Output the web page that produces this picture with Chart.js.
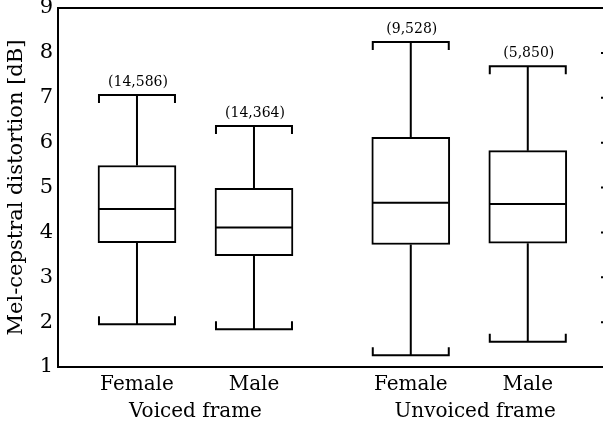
<!DOCTYPE html>
<html><head><meta charset="utf-8">
<script src="https://cdn.jsdelivr.net/npm/chart.js@4/dist/chart.umd.min.js"></script>
<style>html,body{margin:0;padding:0;overflow:hidden;background:#fff}#wrap{width:608px;height:427px;position:relative}</style>
</head><body><div id="wrap"><canvas id="c"></canvas></div>
<script>
const categories = ['Female', 'Male', 'Female', 'Male'];
const positions = [1, 2, 3.34, 4.34];
const groupLabels = ['Voiced frame', 'Unvoiced frame'];
const groupPositions = [1.5, 3.89];
const whiskerLow = [1.95, 1.84, 1.26, 1.56];
const q1 = [3.77, 3.48, 3.73, 3.76];
const median = [4.52, 4.11, 4.66, 4.63];
const q3 = [5.49, 4.98, 6.12, 5.82];
const whiskerHigh = [7.06, 6.37, 8.24, 7.70];
const counts = ['(14,586)', '(14,364)', '(9,528)', '(5,850)'];
const yTickValues = [1, 2, 3, 4, 5, 6, 7, 8, 9];

const FONT = "'DejaVu Serif', serif";

const boxPlugin = {
  id: 'boxWhisker',
  afterDatasetsDraw(chart) {
    const ctx = chart.ctx;
    const ys = chart.scales.y;
    const meta = chart.getDatasetMeta(0);
    const ca = chart.chartArea;
    ctx.save();
    ctx.strokeStyle = '#000';
    ctx.lineWidth = 2;
    ctx.lineCap = 'butt';
    meta.data.forEach((el, i) => {
      const x = el.x, w = el.width;
      const l = x - w / 2 + 1, r = x + w / 2 - 1;
      const yHi = ys.getPixelForValue(whiskerHigh[i]);
      const yLo = ys.getPixelForValue(whiskerLow[i]);
      const yQ1 = ys.getPixelForValue(q1[i]);
      const yQ3 = ys.getPixelForValue(q3[i]);
      const yMed = ys.getPixelForValue(median[i]);
      ctx.beginPath();
      ctx.moveTo(x, yQ3); ctx.lineTo(x, yHi);
      ctx.moveTo(x, yQ1); ctx.lineTo(x, yLo);
      ctx.moveTo(l, yMed); ctx.lineTo(r, yMed);
      ctx.stroke();
      ctx.beginPath();
      ctx.moveTo(l, yHi + 8); ctx.lineTo(l, yHi); ctx.lineTo(r, yHi); ctx.lineTo(r, yHi + 8);
      ctx.moveTo(l, yLo - 8); ctx.lineTo(l, yLo); ctx.lineTo(r, yLo); ctx.lineTo(r, yLo - 8);
      ctx.stroke();
      ctx.fillStyle = '#000';
      ctx.font = "14px " + FONT;
      ctx.textAlign = 'center';
      ctx.textBaseline = 'alphabetic';
      ctx.fillText(counts[i], x + 1, yHi - 9);
    });
    ctx.beginPath();
    ctx.moveTo(ca.left, ca.top); ctx.lineTo(ca.right, ca.top); ctx.lineTo(ca.right, ca.bottom);
    yTickValues.forEach(v => {
      const yy = ys.getPixelForValue(v);
      ctx.moveTo(ca.right - 4, yy); ctx.lineTo(ca.right, yy);
    });
    ctx.stroke();
    ctx.restore();
  }
};

new Chart(document.getElementById('c'), {
  type: 'bar',
  data: {
    datasets: [{
      data: positions.map((p, i) => ({ x: p, y: [q1[i], q3[i]] })),
      backgroundColor: '#fff',
      borderColor: '#000',
      borderWidth: 2,
      borderSkipped: false,
      barThickness: 78,
      grouped: false,
      xAxisID: 'x',
      yAxisID: 'y'
    }]
  },
  options: {
    responsive: true,
    maintainAspectRatio: false,
    animation: false,
    devicePixelRatio: 1,
    layout: { padding: { top: 8, right: 3, left: 0, bottom: 0 } },
    plugins: { legend: { display: false }, tooltip: { enabled: false } },
    scales: {
      x: {
        type: 'linear', position: 'bottom', min: 0.325, max: 5.0, offset: false,
        afterBuildTicks: s => { s.ticks = positions.map(v => ({ value: v })); },
        afterFit: s => { s.height = 30; s.paddingLeft = 0; s.paddingRight = 0; },
        grid: { display: false, drawTicks: false, offset: false },
        border: { display: true, color: '#000', width: 2 },
        ticks: {
          autoSkip: false, maxRotation: 0, padding: 6, color: '#000',
          font: { family: FONT, size: 20 },
          callback: (v, i) => categories[i]
        }
      },
      x2: {
        type: 'linear', position: 'bottom', min: 0.325, max: 5.0, offset: false,
        afterBuildTicks: s => { s.ticks = groupPositions.map(v => ({ value: v })); },
        afterFit: s => { s.height = 30; s.paddingLeft = 0; s.paddingRight = 0; },
        grid: { display: false, drawTicks: false, offset: false },
        border: { display: false },
        ticks: {
          autoSkip: false, maxRotation: 0, padding: 3, color: '#000',
          font: { family: FONT, size: 20 },
          callback: (v, i) => groupLabels[i]
        }
      },
      y: {
        type: 'linear', min: 1, max: 9,
        afterBuildTicks: s => { s.ticks = yTickValues.map(v => ({ value: v })); },
        afterFit: s => { s.width = 58; s.paddingTop = 0; s.paddingBottom = 0; },
        grid: { display: false, drawTicks: false },
        border: { display: true, color: '#000', width: 2 },
        ticks: { padding: 5, color: '#000', font: { family: FONT, size: 21 } },
        title: {
          display: true, text: 'Mel-cepstral distortion [dB]', color: '#000',
          font: { family: FONT, size: 21 }, padding: { top: 4, bottom: 0 }
        }
      }
    }
  },
  plugins: [boxPlugin]
});
</script>
</body></html>
